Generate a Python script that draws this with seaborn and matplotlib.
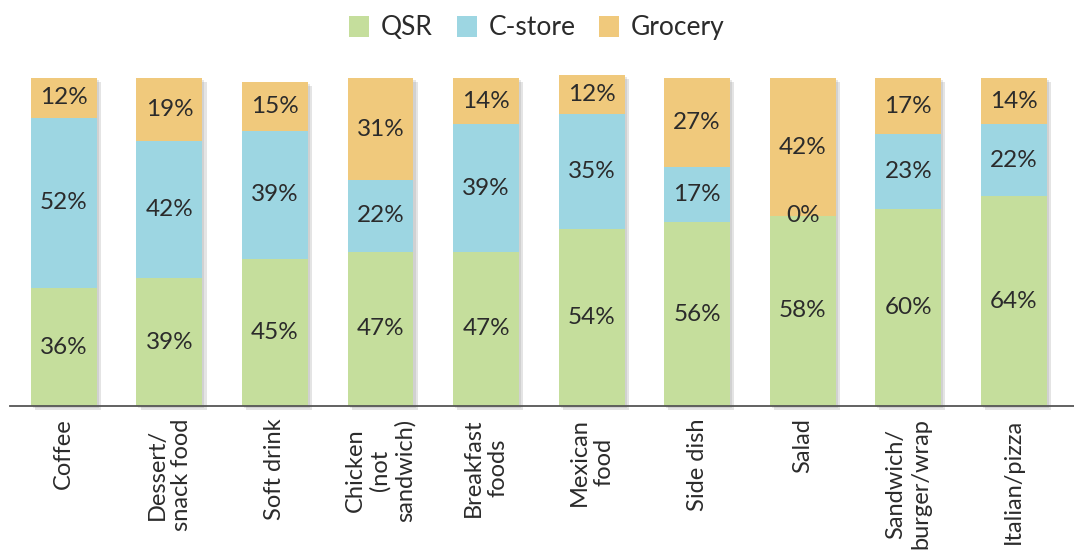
import numpy as np
import pandas as pd
import matplotlib
matplotlib.use("Agg")
import matplotlib.pyplot as plt
import seaborn as sns
from matplotlib import patheffects as pe
from matplotlib.patches import Patch

categories = ["Coffee", "Dessert/\nsnack food", "Soft drink", "Chicken\n(not\nsandwich)",
              "Breakfast\nfoods", "Mexican\nfood", "Side dish", "Salad",
              "Sandwich/\nburger/wrap", "Italian/pizza"]
qsr = [36, 39, 45, 47, 47, 54, 56, 58, 60, 64]
cstore = [52, 42, 39, 22, 39, 35, 17, 0, 23, 22]
grocery = [12, 19, 15, 31, 14, 12, 27, 42, 17, 14]
series = ["QSR", "C-store", "Grocery"]
colors = ["#C5DE9C", "#9DD6E2", "#F0C97C"]

sns.set_theme(style="white")
plt.rcParams['font.family'] = ['Lato', 'DejaVu Sans']

df = pd.DataFrame({"category": categories, "QSR": qsr, "C-store": cstore, "Grocery": grocery})
df["top_c"] = df["QSR"] + df["C-store"]
df["top_g"] = df["top_c"] + df["Grocery"]

fig = plt.figure(figsize=(10.74, 5.51), dpi=100)
ax = fig.add_axes([10 / 1074, (551 - 406) / 551, 1064 / 1074, 331 / 551])

sns.barplot(data=df, x="category", y="top_g", color=colors[2], width=0.625,
            saturation=1, errorbar=None, ax=ax, zorder=2, linewidth=0)
for p in list(ax.patches):
    p.set_clip_on(False)
    p.set_path_effects([pe.SimplePatchShadow(offset=(3, -3), shadow_rgbFace="#888888", alpha=0.22),
                        pe.SimplePatchShadow(offset=(1.5, -1.5), shadow_rgbFace="#888888", alpha=0.2),
                        pe.Normal()])
sns.barplot(data=df, x="category", y="top_c", color=colors[1], width=0.625,
            saturation=1, errorbar=None, ax=ax, zorder=3, linewidth=0)
sns.barplot(data=df, x="category", y="QSR", color=colors[0], width=0.625,
            saturation=1, errorbar=None, ax=ax, zorder=4, linewidth=0)

tc = "#2b2b2b"
for i in range(len(categories)):
    q, c, g = qsr[i], cstore[i], grocery[i]
    ax.text(i, q / 2, f"{q}%", ha="center", va="center", fontsize=17.5, color=tc, zorder=6)
    ax.text(i, q + c / 2, f"{c}%", ha="center", va="center", fontsize=17.5, color=tc, zorder=6)
    ax.text(i, q + c + g / 2, f"{g}%", ha="center", va="center", fontsize=17.5, color=tc, zorder=6)

ax.set_xlim(-0.51, 9.57)
ax.set_ylim(0, 101)
ax.set_xlabel("")
ax.set_ylabel("")
ax.set_yticks([])
for s in ["left", "top", "right"]:
    ax.spines[s].set_visible(False)
ax.spines["bottom"].set_color("#555555")
ax.spines["bottom"].set_linewidth(1.3)
ax.spines["bottom"].set_zorder(7)
ax.tick_params(axis="x", length=0, pad=9, labelsize=17, labelcolor=tc, rotation=90)
for lab in ax.get_xticklabels():
    lab.set_multialignment("center")
    lab.set_linespacing(1.2)

handles = [Patch(facecolor=col, edgecolor="none") for col in colors]
fig.legend(handles, series, loc="upper center", bbox_to_anchor=(0.5, 1.015), ncol=3,
           frameon=False, fontsize=19, handlelength=0.75, handleheight=0.85,
           columnspacing=0.9, handletextpad=0.45, labelcolor=tc)

fig.savefig("out.png", dpi=100)
